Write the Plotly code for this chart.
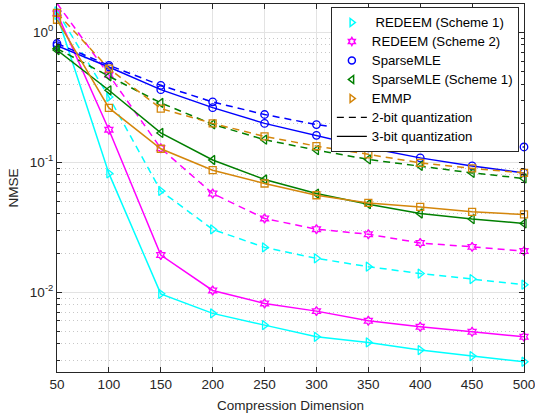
import plotly.graph_objects as go

# ---------------- data ----------------
dims = [50, 100, 150, 200, 250, 300, 350, 400, 450, 500]

redeem1_2bit = [1.45, 0.318, 0.0601, 0.0304, 0.0221, 0.0182, 0.0157, 0.0139, 0.0126, 0.0114]
redeem1_3bit = [1.36, 0.082, 0.0097, 0.00686, 0.00557, 0.00453, 0.0041, 0.00358, 0.00322, 0.00291]

redeem2_2bit = [1.67, 0.47, 0.128, 0.0574, 0.0369, 0.0305, 0.0279, 0.0239, 0.0223, 0.0207]
redeem2_3bit = [1.40, 0.178, 0.0193, 0.0103, 0.00818, 0.00714, 0.00602, 0.00541, 0.00495, 0.00453]

smle_2bit = [0.82, 0.557, 0.391, 0.291, 0.233, 0.195, 0.171, 0.155, 0.139, 0.131]
smle_3bit = [0.79, 0.541, 0.362, 0.263, 0.199, 0.161, 0.129, 0.108, 0.0937, 0.0827]

smle1_2bit = [0.75, 0.459, 0.286, 0.196, 0.149, 0.124, 0.105, 0.0937, 0.0827, 0.075]
smle1_3bit = [0.73, 0.358, 0.168, 0.104, 0.0736, 0.0574, 0.0475, 0.0403, 0.0365, 0.0338]

emmp_2bit = [1.41, 0.526, 0.259, 0.199, 0.158, 0.133, 0.115, 0.0988, 0.0895, 0.0827]
emmp_3bit = [1.25, 0.262, 0.127, 0.0868, 0.0686, 0.0557, 0.0486, 0.0453, 0.0415, 0.0396]

x_ticks = [50, 100, 150, 200, 250, 300, 350, 400, 450, 500]
y_ticks = [0.01, 0.1, 1]
y_tick_text = ["10<sup>-2</sup>", "10<sup>-1</sup>", "10<sup>0</sup>"]
y_minor_ticks = [m * 10.0 ** e for e in (-3, -2, -1) for m in range(2, 10)]

legend_names = ["\u00a0REDEEM (Scheme 1)", "REDEEM (Scheme 2)", "SparseMLE",
                "SparseMLE (Scheme 1)", "EMMP"]
quant_names = ["2-bit quantization", "3-bit quantization"]

# ---------------- styles ----------------
FONT = "Liberation Sans, Arial, Helvetica, sans-serif"
TXT = "#262626"
DASH = "7px,5px"
LEG_TXT = "<span style='font-size:13.2px'>{}</span>"

series = [
    (redeem1_2bit, redeem1_3bit, "#00FFFF", "triangle-right-open", "triangle-right-open", 8),
    (redeem2_2bit, redeem2_3bit, "#FF00FF", "hexagram-open", "hexagram-open", 7),
    (smle_2bit, smle_3bit, "#0000FF", "circle-open", "circle-open", 7.5),
    (smle1_2bit, smle1_3bit, "#007F00", "triangle-left-open", "triangle-left-open", 8),
    (emmp_2bit, emmp_3bit, "#D4860B", "square-open", "triangle-right-open", 7),
]

fig = go.Figure()

for y2, y3, color, sym, leg_sym, msize in series:
    for yv, dash in ((y2, DASH), (y3, "solid")):
        fig.add_trace(go.Scatter(
            x=dims, y=yv, mode="lines+markers", showlegend=False,
            line=dict(color=color, width=1.5, dash=dash),
            marker=dict(symbol=sym, size=msize, color=color,
                        line=dict(color=color, width=1.3)),
            cliponaxis=False,
        ))

# legend-only entries
for (y2, y3, color, sym, leg_sym, msize), name in zip(series, legend_names):
    fig.add_trace(go.Scatter(
        x=[None], y=[None], mode="markers", name=LEG_TXT.format(name),
        marker=dict(symbol=leg_sym, size=7 if "hexagram" not in leg_sym else 6,
                    color=color, line=dict(color=color, width=1.5)),
    ))
for name, dash in zip(quant_names, (DASH, "solid")):
    fig.add_trace(go.Scatter(
        x=[None], y=[None], mode="lines", name=LEG_TXT.format(name),
        line=dict(color="black", width=1.2, dash=dash),
    ))

axis_common = dict(
    showline=True, linecolor=TXT, linewidth=1, mirror="ticks",
    ticks="inside", ticklen=5, tickcolor=TXT, tickwidth=1,
    showgrid=True, gridcolor="#e3e3e3", gridwidth=1,
    zeroline=False, ticklabeloverflow="allow",
    tickfont=dict(family=FONT, size=13.5, color=TXT),
)

fig.update_xaxes(
    **axis_common,
    range=[50, 500], tickvals=x_ticks,
    title=dict(text="Compression Dimension", font=dict(family=FONT, size=13.5, color=TXT),
               standoff=9),
)
fig.update_yaxes(
    **axis_common,
    type="log", range=[-2.615, 0.218],
    tickvals=y_ticks, ticktext=y_tick_text,
    minor=dict(tickmode="array", tickvals=y_minor_ticks,
               ticks="inside", ticklen=3, tickcolor=TXT, showgrid=True,
               gridcolor="#c8c8c8", griddash="1px,3px", gridwidth=1),
    title=dict(text="NMSE", font=dict(family=FONT, size=13.5, color=TXT), standoff=8),
)

fig.update_layout(
    width=535, height=419,
    margin=dict(l=57, r=11, t=4, b=47, autoexpand=False),
    paper_bgcolor="white", plot_bgcolor="white",
    font=dict(family=FONT, color=TXT),
    showlegend=True,
    legend=dict(
        x=0.989, xanchor="right", y=0.992, yanchor="top",
        bgcolor="white", bordercolor=TXT, borderwidth=1,
        font=dict(family=FONT, size=12, color="black"),
        tracegroupgap=0,
    ),
)

fig.write_html("out.html", config={"displayModeBar": False},
               post_script="document.body.style.margin='0';")
